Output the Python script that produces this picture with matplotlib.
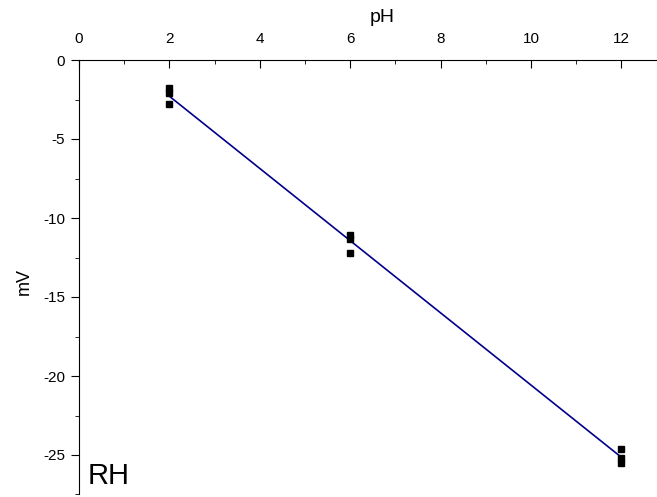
import matplotlib
matplotlib.use("Agg")
import matplotlib.pyplot as plt
from matplotlib.ticker import MultipleLocator
import numpy as np

plt.rcParams["font.family"] = ["Liberation Sans", "DejaVu Sans"]
plt.rcParams["axes.unicode_minus"] = False

# dados
ph = [2, 2, 2, 6, 6, 6, 12, 12, 12]
mv = [-1.8, -2.1, -2.8, -11.1, -11.3, -12.2, -24.6, -25.2, -25.5]

# ajuste linear
coef = np.polyfit(ph, mv, 1)
x_fit = np.array([min(ph), max(ph)])
y_fit = np.polyval(coef, x_fit)

fig = plt.figure(figsize=(6.57, 4.97), dpi=100)
ax = fig.add_axes([79 / 657, 1 - 494.5 / 497, 1 - 79 / 657, (494.5 - 60) / 497])

ax.plot(x_fit, y_fit, color="#00008B", lw=1.2, zorder=2)
ax.plot(ph, mv, "s", color="black", ms=5, zorder=3)

ax.set_xlim(0, 12.79)
ax.set_ylim(-27.5, 0)

ax.xaxis.set_major_locator(MultipleLocator(2))
ax.xaxis.set_minor_locator(MultipleLocator(1))
ax.yaxis.set_major_locator(MultipleLocator(5))
ax.yaxis.set_minor_locator(MultipleLocator(2.5))

ax.xaxis.tick_top()
ax.xaxis.set_label_position("top")
ax.spines[["bottom", "right"]].set_visible(False)
ax.tick_params(axis="x", which="both", direction="in", top=True, bottom=False,
               labelsize=11, pad=10)
ax.tick_params(axis="x", which="major", length=6)
ax.tick_params(axis="x", which="minor", length=3)
ax.tick_params(axis="y", which="both", direction="out", labelsize=11, pad=4)
ax.tick_params(axis="y", which="major", length=6)
ax.tick_params(axis="y", which="minor", length=3)

ax.set_xlabel("pH", fontsize=14, va="center")
ax.xaxis.set_label_coords(0.524, 1.097)
ax.set_ylabel("mV", fontsize=13, va="center")
ax.yaxis.set_label_coords(-0.094, 0.49)

ax.text(0.015, 0.01, "RH", transform=ax.transAxes, fontsize=21,
        ha="left", va="bottom")

fig.savefig("out.png", dpi=100)
